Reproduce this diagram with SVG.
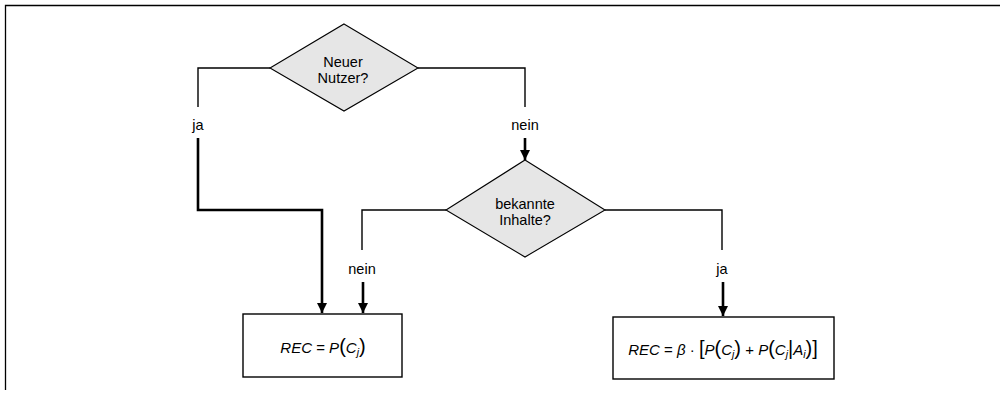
<svg xmlns="http://www.w3.org/2000/svg" width="1000" height="393" viewBox="0 0 1000 393">
<style>
  .lbl { font-family: "Liberation Sans", Arial, sans-serif; font-size: 14.5px; fill: #000; text-anchor: middle; }
  .f { font-family: "Liberation Sans", Arial, sans-serif; font-size: 15px; fill: #000; text-anchor: middle; }
  .it { font-style: italic; }
  .big { font-size: 20px; }
  .sub { font-size: 10.5px; font-style: italic; }
  .thin { fill: none; stroke: #000; stroke-width: 1.4; }
  .thick { fill: none; stroke: #000; stroke-width: 2.6; }
  .dia { fill: #e6e6e6; stroke: #000; stroke-width: 1.1; }
  .box { fill: #fff; stroke: #000; stroke-width: 1.4; }
</style>
<defs>
  <marker id="arr" viewBox="0 0 10 10" refX="10" refY="5" markerWidth="4" markerHeight="4" orient="auto" markerUnits="strokeWidth">
    <path d="M0,0 L10,5 L0,10 z" fill="#000"/>
  </marker>
</defs>
<rect width="1000" height="393" fill="#fff"/>
<path d="M5.5,390 V5.5 H1000" fill="none" stroke="#000" stroke-width="1.3"/>
<g id="connectors">
  <path class="thin" d="M270,68 H198 V107"/>
  <path class="thick" d="M198,138 V210 H322 V313" marker-end="url(#arr)"/>
  <path class="thin" d="M418,68 H525 V107"/>
  <path class="thick" d="M525,138 V160" marker-end="url(#arr)"/>
  <path class="thin" d="M446,210 H362 V250"/>
  <path class="thick" d="M363,282 V313" marker-end="url(#arr)"/>
  <path class="thin" d="M605,210 H722 V250"/>
  <path class="thick" d="M723,282 V316" marker-end="url(#arr)"/>
  <text class="lbl" x="198" y="130">ja</text>
  <text class="lbl" x="525" y="130">nein</text>
  <text class="lbl" x="362" y="274">nein</text>
  <text class="lbl" x="722" y="274">ja</text>
</g>
<g id="d1">
  <polygon class="dia" points="344,24 418,68 344,111 270,68"/>
  <text class="lbl" x="343" y="67">Neuer</text>
  <text class="lbl" x="343" y="83">Nutzer?</text>
</g>
<g id="d2">
  <polygon class="dia" points="525,160 605,210 525,257 446,210"/>
  <text class="lbl" x="525" y="209">bekannte</text>
  <text class="lbl" x="525" y="225">Inhalte?</text>
</g>
<g id="b1">
  <rect class="box" x="243" y="314" width="159" height="63"/>
  <text class="f" x="323" y="353"><tspan class="it">REC</tspan> = <tspan class="it">P</tspan><tspan class="big">(</tspan><tspan class="it">C</tspan><tspan class="sub" dy="3">j</tspan><tspan class="big" dy="-3">)</tspan></text>
</g>
<g id="b2">
  <rect class="box" x="613" y="317" width="221" height="62"/>
  <text class="f" x="723" y="355"><tspan class="it">REC</tspan> = <tspan class="it">β</tspan> · <tspan class="big">[</tspan><tspan class="it">P</tspan><tspan class="big">(</tspan><tspan class="it">C</tspan><tspan class="sub" dy="3">j</tspan><tspan class="big" dy="-3">)</tspan> + <tspan class="it">P</tspan><tspan class="big">(</tspan><tspan class="it">C</tspan><tspan class="sub" dy="3">j</tspan><tspan class="big" dy="-3">|</tspan><tspan class="it">A</tspan><tspan class="sub" dy="3">i</tspan><tspan class="big" dy="-3">)</tspan><tspan class="big">]</tspan></text>
</g>
</svg>
